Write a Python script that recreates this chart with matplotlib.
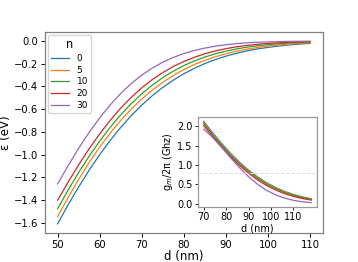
import numpy as np
import matplotlib
matplotlib.use("Agg")
import matplotlib.pyplot as plt

n_values = [0, 5, 10, 20, 30]
colors = ["#1f77b4", "#ff7f0e", "#2ca02c", "#d62728", "#9467bd"]

d_main = [50, 52.5, 55, 57.5, 60, 62.5, 65, 67.5, 70, 72.5, 75, 77.5, 80,
          82.5, 85, 87.5, 90, 92.5, 95, 97.5, 100, 102.5, 105, 107.5, 110]
eps_n0 = [-1.610, -1.442, -1.285, -1.137, -1.001, -0.875, -0.761, -0.657, -0.565, -0.482, -0.409, -0.345, -0.289,
          -0.241, -0.199, -0.164, -0.134, -0.109, -0.088, -0.071, -0.057, -0.045, -0.035, -0.028, -0.022]
eps_n5 = [-1.547, -1.377, -1.217, -1.070, -0.934, -0.811, -0.699, -0.599, -0.511, -0.432, -0.364, -0.304, -0.252,
          -0.208, -0.171, -0.139, -0.113, -0.091, -0.073, -0.058, -0.046, -0.036, -0.028, -0.022, -0.017]
eps_n10 = [-1.476, -1.312, -1.158, -1.014, -0.881, -0.760, -0.650, -0.552, -0.465, -0.389, -0.323, -0.266, -0.217,
           -0.176, -0.142, -0.113, -0.090, -0.071, -0.055, -0.043, -0.033, -0.025, -0.019, -0.014, -0.011]
eps_n20 = [-1.402, -1.242, -1.090, -0.948, -0.818, -0.699, -0.591, -0.496, -0.413, -0.340, -0.278, -0.225, -0.181,
           -0.144, -0.113, -0.088, -0.068, -0.052, -0.040, -0.030, -0.022, -0.017, -0.012, -0.009, -0.006]
eps_n30 = [-1.258, -1.097, -0.945, -0.804, -0.677, -0.563, -0.462, -0.375, -0.301, -0.239, -0.187, -0.145, -0.111,
           -0.084, -0.063, -0.046, -0.034, -0.024, -0.017, -0.012, -0.009, -0.006, -0.004, -0.003, -0.002]

d_inset = [70, 74, 78, 82, 86, 90, 94, 98, 102, 106, 110, 114, 118]
g_n0 = [2.130, 1.836, 1.559, 1.304, 1.073, 0.870, 0.695, 0.546, 0.423, 0.322, 0.242, 0.179, 0.130]
g_n5 = [2.100, 1.808, 1.532, 1.279, 1.051, 0.850, 0.677, 0.531, 0.410, 0.312, 0.234, 0.172, 0.125]
g_n10 = [2.070, 1.782, 1.510, 1.257, 1.030, 0.830, 0.658, 0.513, 0.393, 0.296, 0.220, 0.160, 0.115]
g_n20 = [2.020, 1.740, 1.470, 1.218, 0.990, 0.790, 0.618, 0.475, 0.358, 0.264, 0.191, 0.136, 0.095]
g_n30 = [1.931, 1.712, 1.456, 1.189, 0.931, 0.700, 0.505, 0.349, 0.232, 0.148, 0.090, 0.053, 0.030]
g_ref = 0.8

inset_xticks = [70, 80, 90, 100, 110]
inset_yticks = [0.0, 0.5, 1.0, 1.5, 2.0]

eps_all = [eps_n0, eps_n5, eps_n10, eps_n20, eps_n30]
g_all = [g_n0, g_n5, g_n10, g_n20, g_n30]

fig = plt.figure(figsize=(3.58, 2.62), dpi=100)
ax = fig.add_axes([45 / 358, 29 / 262, 277.7 / 358, 201 / 262])
for n, e, c in zip(n_values, eps_all, colors):
    ax.plot(d_main, e, color=c, lw=0.9, label=str(n))
ax.set_xlabel("d (nm)", fontsize=8.5, labelpad=0)
ax.set_ylabel("ε (eV)", fontsize=8.5, labelpad=1)
ax.tick_params(labelsize=7.2, length=3, width=0.7, pad=2)
for s in ax.spines.values():
    s.set_color("#808080")
    s.set_linewidth(0.9)
leg = ax.legend(title="n", loc="upper left", fontsize=6.5, title_fontsize=8.3,
                borderaxespad=0.35, handlelength=2.0, labelspacing=0.3,
                borderpad=0.35, handletextpad=0.8, framealpha=0.8)

axi = fig.add_axes([198.3 / 358, 55.3 / 262, 118.4 / 358, 89.4 / 262])
for n, g, c in zip(n_values, g_all, colors):
    axi.plot(d_inset, g, color=c, lw=0.9)
axi.axhline(g_ref, color="#dddddd", lw=0.7, ls="--")
axi.set_xlabel("d (nm)", fontsize=7, labelpad=1)
axi.set_ylabel("g$_m$/2π (Ghz)", fontsize=7, labelpad=2)
axi.set_xticks(inset_xticks)
axi.set_yticks(inset_yticks)
axi.tick_params(labelsize=7, length=2.5, width=0.6, pad=1.5)
for s in axi.spines.values():
    s.set_color("#999999")
    s.set_linewidth(0.9)

fig.savefig("out.png", dpi=100)
